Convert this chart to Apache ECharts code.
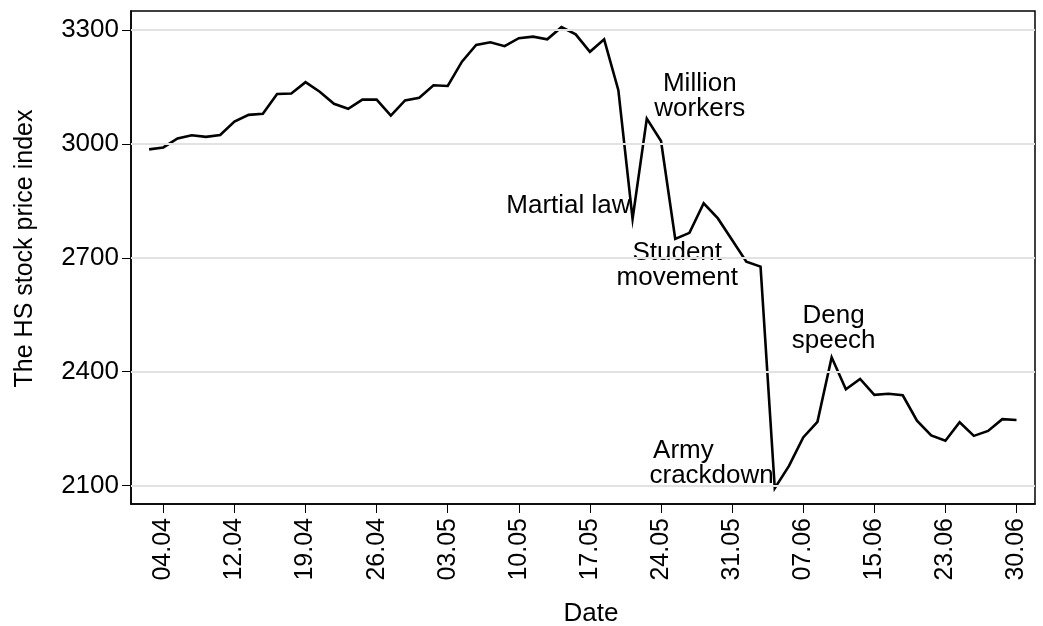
<!DOCTYPE html>
<html><head><meta charset="utf-8">
<script src="https://cdn.jsdelivr.net/npm/echarts@6/dist/echarts.min.js"></script>
<style>html,body{margin:0;padding:0;background:#fff}#c{width:1043px;height:626px}</style>
</head><body><div id="c"></div>
<script>
// Trading days, 03.04.1989 - 30.06.1989
const dates = ['03.04','04.04','06.04','07.04','10.04','11.04','12.04','13.04','14.04','17.04',
  '18.04','19.04','20.04','21.04','24.04','25.04','26.04','27.04','28.04','01.05',
  '02.05','03.05','04.05','05.05','08.05','09.05','10.05','11.05','12.05','15.05',
  '16.05','17.05','18.05','19.05','22.05','23.05','24.05','25.05','26.05','29.05',
  '30.05','31.05','01.06','02.06','05.06','06.06','07.06','09.06','12.06','13.06',
  '14.06','15.06','16.06','20.06','21.06','22.06','23.06','26.06','27.06','28.06',
  '29.06','30.06'];
const hsIndex = [2986,2991,3015,3023,3019,3024,3059,3077,3080,3132,
  3133,3163,3138,3106,3093,3117,3117,3075,3115,3122,
  3155,3153,3217,3261,3268,3258,3279,3283,3276,3308,
  3289,3243,3276,3142,2803,3067,3008,2750,2766,2844,
  2804,2747,2690,2677,2093,2152,2227,2268,2438,2354,
  2381,2339,2342,2338,2271,2232,2218,2267,2231,2244,
  2275,2273];
const xTickLabels = ['04.04','12.04','19.04','26.04','03.05','10.05','17.05','24.05','31.05','07.06','15.06','23.06','30.06'];
const yTicks = [2100,2400,2700,3000,3300];
const eventNames = ['Martial law','Million\nworkers','Student\nmovement','Army\ncrackdown','Deng\nspeech'];
const eventDates = ['22.05','23.05','25.05','05.06','12.06'];

const FONT = '"Liberation Sans", Arial, Helvetica, sans-serif';
const xTickIdx = xTickLabels.map(d => dates.indexOf(d));
const lineData = hsIndex.map((v, i) => [i, v]);

const eventStyles = [
  {align:'right', offset:[-2,-12]},
  {align:'center', offset:[53,-22]},
  {align:'center', offset:[2,27]},
  {align:'right', offset:[-1,-24], rich:true},
  {align:'center', offset:[2,-28]}
];
const eventData = eventNames.map((name, k) => {
  const i = dates.indexOf(eventDates[k]);
  const st = eventStyles[k];
  const label = {show:true, position:'top', distance:0, align:st.align, verticalAlign:'middle',
    offset:st.offset, color:'#000', opacity:1, textBorderWidth:0, fontSize:26, lineHeight:25, fontFamily:FONT};
  if (st.rich) {
    const parts = name.split('\n');
    label.formatter = '{a|' + parts[0] + '}\n{b|' + parts[1] + '}';
    label.rich = {
      a:{fontSize:26, lineHeight:25, fontFamily:FONT, color:'#000', padding:[0,60,0,0]},
      b:{fontSize:26, lineHeight:25, fontFamily:FONT, color:'#000'}
    };
  } else {
    label.formatter = name;
  }
  return {value:[i, hsIndex[i]], label};
});

const chart = echarts.init(document.getElementById('c'), null, {renderer:'canvas'});
chart.setOption({
  animation:false,
  backgroundColor:'#fff',
  grid:{left:131, top:11, right:8, bottom:122, show:true, borderColor:'#000', borderWidth:1.5,
    backgroundColor:'#fff', containLabel:false, outerBoundsMode:'none'},
  xAxis:{
    type:'value', min:-1.273, max:62.3,
    axisLine:{show:true, onZero:false, lineStyle:{color:'#000', width:1.5}},
    axisTick:{show:true, customValues:xTickIdx, length:9, lineStyle:{color:'#000', width:1}},
    axisLabel:{customValues:xTickIdx, rotate:90, margin:14, color:'#000', fontSize:25, fontFamily:FONT,
      formatter:v => dates[Math.round(v)]},
    splitLine:{show:false},
    name:'Date', nameLocation:'middle', nameGap:97,
    nameTextStyle:{fontSize:26, color:'#000', fontFamily:FONT, padding:[0,0,0,16]}
  },
  yAxis:{
    type:'value', min:2051.5, max:3350.6,
    axisLine:{show:true, onZero:false, lineStyle:{color:'#000', width:1.5}},
    axisTick:{show:true, customValues:yTicks, length:9, lineStyle:{color:'#000', width:1}},
    axisLabel:{customValues:yTicks, margin:12, color:'#000', fontSize:26, fontFamily:FONT,
      formatter:v => String(v)},
    splitLine:{show:false},
    name:'The HS stock price index', nameLocation:'middle', nameGap:93,
    nameTextStyle:{fontSize:25, color:'#000', fontFamily:FONT, padding:[0,0,0,18]}
  },
  series:[
    {type:'line', data:[], z:1, silent:true,
      markLine:{silent:true, symbol:['none','none'], label:{show:false},
        lineStyle:{color:'#e2e2e2', width:2, type:'solid'},
        data:yTicks.map(v => ({yAxis:v}))}},
    {type:'line', data:lineData, z:3, showSymbol:false, symbol:'none',
      lineStyle:{color:'#000', width:2.6, join:'miter'}},
    {type:'scatter', data:eventData, z:4, symbolSize:1, itemStyle:{color:'rgba(0,0,0,0)'}, silent:true}
  ]
});
</script></body></html>
